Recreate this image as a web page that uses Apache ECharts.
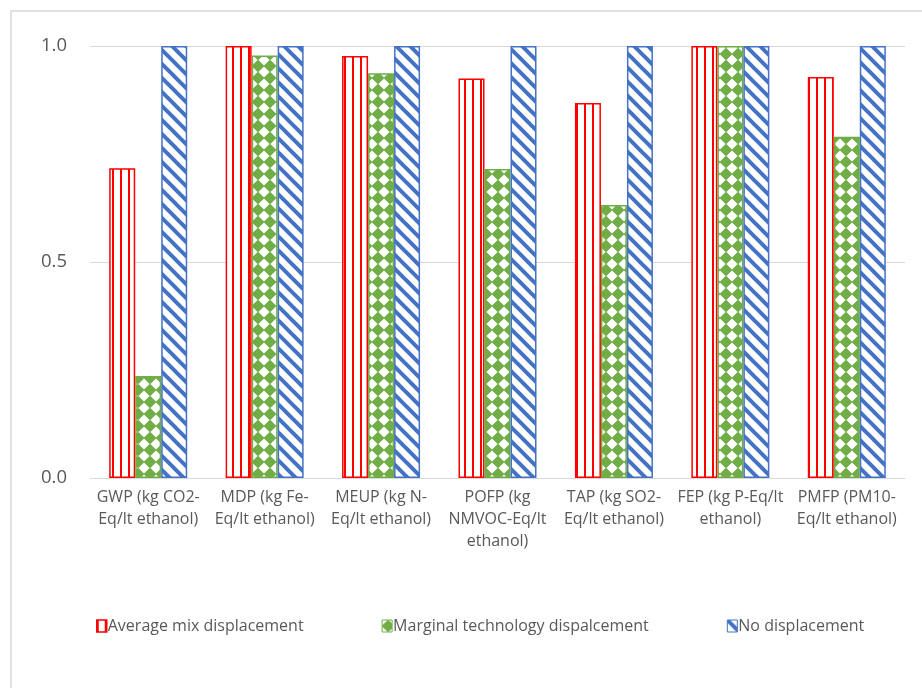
<!DOCTYPE html>
<html>
<head>
<meta charset="utf-8">
<script src="https://cdn.jsdelivr.net/npm/echarts@6/dist/echarts.min.js"></script>
<style>
  html, body { margin: 0; padding: 0; background: #fff; }
  #chart { width: 922px; height: 688px; }
</style>
</head>
<body>
<div id="chart"></div>
<script>
// Impact categories (x axis)
const categories = [
  'GWP (kg CO2-\nEq/lt ethanol)',
  'MDP (kg Fe-\nEq/lt ethanol)',
  'MEUP (kg N-\nEq/lt ethanol)',
  'POFP (kg\nNMVOC-Eq/lt\nethanol)',
  'TAP (kg SO2-\nEq/lt ethanol)',
  'FEP (kg P-Eq/lt\nethanol)',
  'PMFP (PM10-\nEq/lt ethanol)'
];
// Normalised impact per scenario
const averageMix = [0.717, 1.0, 0.977, 0.925, 0.868, 1.0, 0.928];
const marginalTech = [0.236, 0.978, 0.937, 0.715, 0.632, 1.0, 0.79];
const noDisplacement = [1.0, 1.0, 1.0, 1.0, 1.0, 1.0, 1.0];
const seriesNames = ['Average mix displacement', 'Marginal technology dispalcement', 'No displacement'];
const yTicks = [0, 0.5, 1.0];

const RED = '#FF0000', GREEN = '#70AD47', BLUE = '#4472C4';

function tile(w, h, bg, draw) {
  const c = document.createElement('canvas');
  c.width = w; c.height = h;
  const ctx = c.getContext('2d');
  ctx.fillStyle = bg;
  ctx.fillRect(0, 0, w, h);
  draw(ctx);
  return { image: c, repeat: 'repeat' };
}
function diamond(ctx, cx, cy, r) {
  ctx.beginPath();
  ctx.moveTo(cx, cy - r); ctx.lineTo(cx + r, cy);
  ctx.lineTo(cx, cy + r); ctx.lineTo(cx - r, cy);
  ctx.closePath(); ctx.fill();
}
// vertical red stripes
const redPattern = tile(8, 8, '#fff', ctx => {
  ctx.fillStyle = RED;
  ctx.fillRect(0, 0, 2, 8);
});
// solid diamond checker: green diamonds on white
const greenPattern = tile(12, 12, '#fff', ctx => {
  ctx.fillStyle = GREEN;
  diamond(ctx, 6, 6, 6.4);
});
// blue descending diagonal stripes
const bluePattern = tile(14, 14, '#fff', ctx => {
  ctx.strokeStyle = BLUE;
  ctx.lineWidth = 4;
  for (let k = -14; k <= 28; k += 14) {
    ctx.beginPath();
    ctx.moveTo(k - 3, -3);
    ctx.lineTo(k + 17, 17);
    ctx.stroke();
  }
});

const chart = echarts.init(document.getElementById('chart'), null, { renderer: 'canvas' });
const font = '"Open Sans", "Noto Sans", sans-serif';
const textColor = '#595959';

function barSeries(name, data, pattern, border) {
  return {
    name, type: 'bar', data,
    barGap: '0%', barCategoryGap: '33%',
    itemStyle: { color: pattern, borderColor: border, borderWidth: 1.5 },
    emphasis: { disabled: true }
  };
}

chart.setOption({
  animation: false,
  backgroundColor: '#fff',
  textStyle: { fontFamily: font },
  graphic: [{
    type: 'rect', silent: true,
    shape: { x: 11, y: 11, width: 1000, height: 1000 },
    style: { fill: 'none', stroke: '#D9D9D9', lineWidth: 1.5 }
  }],
  grid: { left: 90, right: 17, top: 46, bottom: 210, containLabel: false },
  legend: {
    bottom: 49, left: 91,
    icon: 'rect', itemWidth: 10, itemHeight: 12, itemGap: 78,
    textStyle: { color: textColor, fontSize: 16, fontFamily: font, padding: [0, 0, 0, -4] },
    data: [
      { name: seriesNames[0], itemStyle: { color: redPattern, borderColor: RED, borderWidth: 1.5 } },
      { name: seriesNames[1], itemStyle: { color: greenPattern, borderColor: GREEN, borderWidth: 1 } },
      { name: seriesNames[2], itemStyle: { color: bluePattern, borderColor: BLUE, borderWidth: 1 } }
    ]
  },
  xAxis: {
    type: 'category', data: categories,
    axisLine: { lineStyle: { color: '#D9D9D9', width: 1 } },
    axisTick: { show: false },
    axisLabel: { color: textColor, fontSize: 16, lineHeight: 22, margin: 8, interval: 0, fontFamily: font }
  },
  yAxis: {
    type: 'value', min: yTicks[0], max: yTicks[yTicks.length - 1], interval: 0.5,
    axisLine: { show: false }, axisTick: { show: false },
    splitLine: { lineStyle: { color: '#D9D9D9', width: 1 } },
    axisLabel: { color: textColor, fontSize: 18.5, margin: 23, fontFamily: font, formatter: v => v.toFixed(1) }
  },
  series: [
    barSeries(seriesNames[0], averageMix, redPattern, RED),
    barSeries(seriesNames[1], marginalTech, greenPattern, GREEN),
    barSeries(seriesNames[2], noDisplacement, bluePattern, BLUE)
  ]
});
</script>
</body>
</html>
